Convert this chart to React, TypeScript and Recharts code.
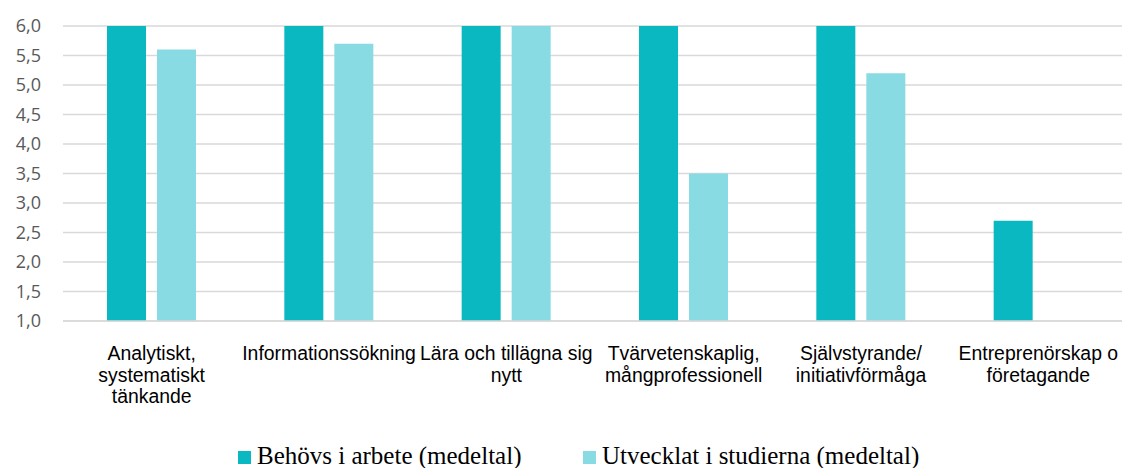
import React from 'react';
import { BarChart, Bar, XAxis, YAxis, CartesianGrid } from 'recharts';

const categories = [
  'Analytiskt, systematiskt tänkande',
  'Informationssökning',
  'Lära och tillägna sig nytt',
  'Tvärvetenskaplig, mångprofessionell',
  'Självstyrande/ initiativförmåga',
  'Entreprenörskap o företagande',
];

// how the category labels wrap under the axis
const categoryLines = [
  ['Analytiskt,', 'systematiskt', 'tänkande'],
  ['Informationssökning'],
  ['Lära och tillägna sig', 'nytt'],
  ['Tvärvetenskaplig,', 'mångprofessionell'],
  ['Självstyrande/', 'initiativförmåga'],
  ['Entreprenörskap o', 'företagande'],
];

const behovs = [6.0, 6.0, 6.0, 6.0, 6.0, 2.7];
const utvecklat: (number | null)[] = [5.6, 5.7, 6.0, 3.5, 5.2, null];

const yTicks = [1.0, 1.5, 2.0, 2.5, 3.0, 3.5, 4.0, 4.5, 5.0, 5.5, 6.0];

const seriesNames = ['Behövs i arbete (medeltal)', 'Utvecklat i studierna (medeltal)'];
const colors = ['#0ab8c1', '#88dbe2'];

const data = categories.map((c, i) => ({
  name: c,
  behovs: behovs[i],
  utvecklat: utvecklat[i],
}));

const CategoryTick = (props: any) => {
  const { x, y, payload } = props;
  const lines = categoryLines[categories.indexOf(payload.value)] || [payload.value];
  return (
    <text
      x={x}
      y={y}
      textAnchor="middle"
      fill="#000"
      style={{ fontFamily: '"Liberation Sans", Arial, sans-serif', fontSize: 19.4 }}
    >
      {lines.map((l: string, i: number) => (
        <tspan key={i} x={x} dy={i === 0 ? 37 : 21.5}>
          {l}
        </tspan>
      ))}
    </text>
  );
};

export default function App() {
  return (
    <div
      style={{
        position: 'fixed',
        left: 0,
        top: 0,
        width: 1122,
        height: 468,
        overflow: 'hidden',
        background: '#fff',
      }}
    >
      <BarChart
        width={1135}
        height={440}
        data={data}
        margin={{ top: 26, right: 8, bottom: 0, left: 8 }}
        barCategoryGap={44}
        barGap={11}
      >
        <CartesianGrid vertical={false} stroke="#d9d9d9" strokeWidth={1.5} />
        <XAxis
          dataKey="name"
          interval={0}
          height={119}
          tickLine={false}
          axisLine={{ stroke: '#d9d9d9', strokeWidth: 1.5 }}
          tick={<CategoryTick />}
          tickSize={0}
        />
        <YAxis
          domain={[1, 6]}
          ticks={yTicks}
          width={55}
          axisLine={false}
          tickLine={false}
          tickSize={0}
          tickMargin={22}
          tickFormatter={(v: number) => v.toFixed(1).replace('.', ',')}
          tick={{ fill: '#595959', fontSize: 18, fontFamily: '"Open Sans", sans-serif' }}
        />
        <Bar dataKey="behovs" name={seriesNames[0]} fill={colors[0]} isAnimationActive={false} />
        <Bar dataKey="utvecklat" name={seriesNames[1]} fill={colors[1]} isAnimationActive={false} />
      </BarChart>
      <svg width={1122} height={28} style={{ position: 'absolute', top: 440, left: 0 }}>
        {seriesNames.map((n, i) => {
          const x0 = i === 0 ? 238 : 583;
          return (
            <g key={n}>
              <rect x={x0} y={11} width={13} height={13} fill={colors[i]} />
              <text
                x={x0 + 19}
                y={24}
                style={{ fontFamily: '"Liberation Serif", serif', fontSize: 25 }}
                fill="#000"
              >
                {n}
              </text>
            </g>
          );
        })}
      </svg>
    </div>
  );
}
